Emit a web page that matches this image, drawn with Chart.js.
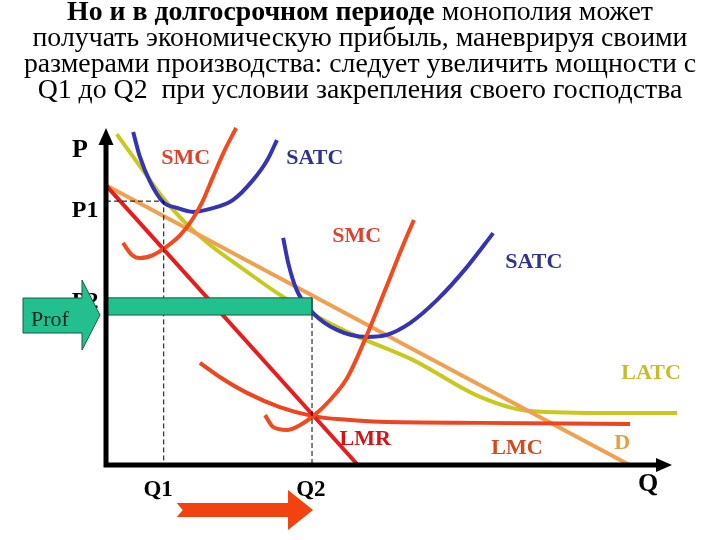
<!DOCTYPE html>
<html>
<head>
<meta charset="utf-8">
<script src="https://cdn.jsdelivr.net/npm/chart.js@4.4.0/dist/chart.umd.min.js"></script>
<style>
  body { margin: 0; background: #fff; }
  #wrap { position: relative; width: 720px; height: 540px; }
  #chart { position: absolute; left: 0; top: 0; }
  #title {
    position: absolute; left: 0; top: -2px; width: 720px; text-align: center;
    font-family: 'Liberation Serif', 'Times New Roman', serif;
    font-size: 27.8px; line-height: 26px; color: #000; white-space: nowrap;
  }
</style>
</head>
<body>
<div id="wrap">
  <canvas id="chart" width="720" height="540"></canvas>
  <div id="title">
    <div><b>Но и в долгосрочном периоде</b> монополия может</div>
    <div>получать экономическую прибыль, маневрируя своими</div>
    <div>размерами производства: следует увеличить мощности с</div>
    <div>Q1 до Q2&nbsp; при условии закрепления своего господства</div>
  </div>
</div>
<script>
// Q and P values (axis units 0..100)
const q1 = 10.2;
const q2 = 36.4;
const p1 = 78.3;
const profitTop = 49.6;
const profitBottom = 44.5;

const demandQ = [0, 92.5];
const demandP = [83, 0];

const lmrQ = [0, 44.5];
const lmrP = [83, 0];

const latcQ = [1.9, 6.5, 10.4, 14.8, 18.4, 23.7, 31.3, 42.6, 54.2, 66.1, 74.9, 89.6, 100.9];
const latcP = [98.2, 87.5, 78.6, 70.6, 65.3, 58.8, 49.9, 39.5, 31.2, 20.2, 16.0, 15.4, 15.4];

const satc1Q = [4.8, 6.0, 7.8, 10.1, 12.5, 15.4, 18.4, 22.4, 26.0, 28.5, 30.2];
const satc1P = [98.8, 91.4, 84.0, 78.0, 76.3, 75.1, 76.0, 78.6, 84.6, 90.5, 96.4];

const smc1Q = [3.0, 4.6, 6.0, 8.3, 10.4, 13.1, 15.2, 17.0, 18.9, 21.0, 23.0];
const smc1P = [65.9, 62.3, 61.4, 62.3, 64.4, 68.2, 72.7, 78.0, 85.5, 93.5, 100.0];

const satc2Q = [31.3, 32.2, 33.7, 36.6, 40.8, 46.1, 49.6, 53.7, 58.5, 63.8, 68.4];
const satc2P = [67.4, 59.9, 51.9, 45.1, 40.1, 38.0, 38.6, 42.1, 49.0, 58.8, 68.8];

const smc2Q = [28.1, 29.5, 32.0, 34.3, 36.6, 39.6, 42.6, 46.1, 49.6, 52.5, 54.4];
const smc2P = [14.8, 11.3, 10.4, 11.9, 14.5, 19.3, 25.8, 38.6, 53.1, 65.3, 72.7];

const lmcQ = [16.6, 20.1, 24.9, 30.7, 36.6, 42.6, 48.4, 66.1, 92.6];
const lmcP = [30.3, 26.1, 21.4, 17.2, 14.5, 13.4, 12.8, 12.5, 12.2];

const zip = (xs, ys) => xs.map((x, i) => ({ x: x, y: ys[i] }));

const serif = "'Liberation Serif', 'Times New Roman', serif";

// text labels placed in axis units
const labels = [
  { text: 'SMC', q: 14.1, p: 91.1, color: '#e0402c', size: 22 },
  { text: 'SATC', q: 36.9, p: 91.1, color: '#2e3290', size: 22 },
  { text: 'SMC', q: 44.3, p: 68.0, color: '#e0402c', size: 22 },
  { text: 'SATC', q: 75.6, p: 60.2, color: '#2e3290', size: 22 },
  { text: 'LATC', q: 96.3, p: 27.3, color: '#c4bc2a', size: 22 },
  { text: 'LMR', q: 45.8, p: 7.7, color: '#d41414', size: 22 },
  { text: 'LMC', q: 72.6, p: 5.0, color: '#d24a1e', size: 22 },
  { text: 'D', q: 91.2, p: 6.5, color: '#e2a040', size: 22 },
  { text: 'P', q: -4.6, p: 93.5, color: '#000', size: 26 },
  { text: 'P1', q: -3.7, p: 75.4, color: '#000', size: 24 },
  { text: 'Q', q: 95.8, p: -5.6, color: '#000', size: 26 },
  { text: 'Q1', q: 9.2, p: -7.4, color: '#000', size: 23 },
  { text: 'Q2', q: 36.2, p: -7.4, color: '#000', size: 23 }
];

const curve = (data, color, order) => ({
  data: data,
  showLine: true,
  borderColor: color,
  borderWidth: 4,
  pointRadius: 0,
  cubicInterpolationMode: 'monotone',
  clip: false,
  order: order
});

const drawLabel = (ctx, chart, l) => {
  const x = chart.scales.x.getPixelForValue(l.q);
  const y = chart.scales.y.getPixelForValue(l.p);
  ctx.font = 'bold ' + l.size + 'px ' + serif;
  ctx.fillStyle = l.color;
  ctx.textAlign = 'center';
  ctx.textBaseline = 'middle';
  ctx.fillText(l.text, x, y);
};

// axes with arrows, side arrows, text
const decorations = {
  id: 'decorations',
  afterDraw(chart) {
    const ctx = chart.ctx;
    const a = chart.chartArea;
    const sx = chart.scales.x, sy = chart.scales.y;
    ctx.save();

    // axes
    ctx.strokeStyle = '#000';
    ctx.fillStyle = '#000';
    ctx.lineWidth = 5;
    ctx.beginPath();
    ctx.moveTo(a.left, a.bottom + 2.5);
    ctx.lineTo(a.left, a.top + 14);
    ctx.moveTo(a.left - 2.5, a.bottom);
    ctx.lineTo(a.right - 14, a.bottom);
    ctx.stroke();
    ctx.beginPath();
    ctx.moveTo(a.left, a.top);
    ctx.lineTo(a.left - 7.5, a.top + 17);
    ctx.lineTo(a.left + 7.5, a.top + 17);
    ctx.closePath();
    ctx.fill();
    ctx.beginPath();
    ctx.moveTo(a.right, a.bottom);
    ctx.lineTo(a.right - 16, a.bottom - 7);
    ctx.lineTo(a.right - 16, a.bottom + 7);
    ctx.closePath();
    ctx.fill();

    // P2, partly hidden by the Prof arrow
    drawLabel(ctx, chart, { text: 'P2', q: -3.7, p: 48.5, color: '#000', size: 24 });

    // Prof arrow
    const tipX = sx.getPixelForValue(0) - 6;
    const tipY = sy.getPixelForValue(profitBottom);
    ctx.beginPath();
    ctx.moveTo(tipX, tipY);
    ctx.lineTo(tipX - 18, tipY - 35);
    ctx.lineTo(tipX - 18, tipY - 17);
    ctx.lineTo(tipX - 77, tipY - 17);
    ctx.lineTo(tipX - 77, tipY + 18);
    ctx.lineTo(tipX - 18, tipY + 18);
    ctx.lineTo(tipX - 18, tipY + 35);
    ctx.closePath();
    ctx.fillStyle = '#22c08e';
    ctx.fill();
    ctx.lineWidth = 1;
    ctx.strokeStyle = '#1d5a48';
    ctx.stroke();
    ctx.font = '22px ' + serif;
    ctx.fillStyle = '#10281e';
    ctx.textAlign = 'center';
    ctx.textBaseline = 'middle';
    ctx.fillText('Prof', tipX - 50, tipY + 5);

    // red arrow Q1 -> Q2 under the axis
    const ax0 = sx.getPixelForValue(q1 + 2.3);
    const ax1 = sx.getPixelForValue(q2) + 1;
    const ay = a.bottom + 45;
    ctx.beginPath();
    ctx.moveTo(ax1, ay);
    ctx.lineTo(ax1 - 25, ay - 20);
    ctx.lineTo(ax1 - 25, ay - 7);
    ctx.lineTo(ax0, ay - 7);
    ctx.lineTo(ax0 + 6, ay);
    ctx.lineTo(ax0, ay + 7);
    ctx.lineTo(ax1 - 25, ay + 7);
    ctx.lineTo(ax1 - 25, ay + 20);
    ctx.closePath();
    ctx.fillStyle = '#f2420f';
    ctx.fill();

    labels.forEach(l => drawLabel(ctx, chart, l));
    ctx.restore();
  }
};

new Chart(document.getElementById('chart').getContext('2d'), {
  type: 'scatter',
  data: {
    datasets: [
      {
        data: zip([0, q2, q2, 0, 0], [profitTop, profitTop, profitBottom, profitBottom, profitTop]),
        showLine: true,
        fill: 'shape',
        backgroundColor: '#22c08e',
        borderColor: '#1d5a48',
        borderWidth: 1,
        pointRadius: 0,
        tension: 0,
        order: 0
      },
      {
        data: zip([0, q1, q1], [p1, p1, 0]),
        showLine: true,
        borderColor: '#000',
        borderWidth: 1,
        borderDash: [5, 3],
        pointRadius: 0,
        order: 1
      },
      {
        data: zip([q2, q2], [profitBottom, 0]),
        showLine: true,
        borderColor: '#000',
        borderWidth: 1,
        borderDash: [5, 3],
        pointRadius: 0,
        order: 1
      },
      curve(zip(smc1Q, smc1P), '#f04a1e', 2),
      curve(zip(smc2Q, smc2P), '#f04a1e', 2),
      curve(zip(satc1Q, satc1P), '#3434b4', 3),
      curve(zip(satc2Q, satc2P), '#3434b4', 3),
      curve(zip(lmrQ, lmrP), '#e81c1c', 4),
      curve(zip(lmcQ, lmcP), '#ee4420', 5),
      curve(zip(demandQ, demandP), '#f0a050', 6),
      curve(zip(latcQ, latcP), '#c8c81e', 7)
    ]
  },
  options: {
    responsive: false,
    animation: false,
    layout: { padding: { left: 106, top: 128, right: 48, bottom: 75 } },
    scales: {
      x: { type: 'linear', min: 0, max: 100, display: false },
      y: { type: 'linear', min: 0, max: 100, display: false }
    },
    plugins: {
      legend: { display: false },
      tooltip: { enabled: false }
    }
  },
  plugins: [decorations]
});
</script>
</body>
</html>
